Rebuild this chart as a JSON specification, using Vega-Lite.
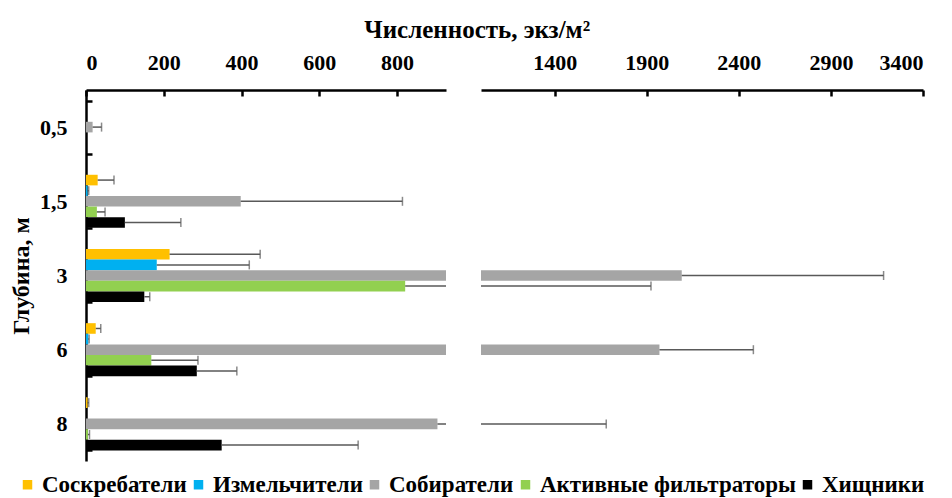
{
  "$schema": "https://vega.github.io/schema/vega-lite/v6.json",
  "padding": {"left": 9, "right": 0, "top": 18, "bottom": 0},
  "title": {"text": "Численность, экз/м²", "font": "Liberation Serif", "fontSize": 25, "fontWeight": "bold", "anchor": "middle", "color": "#000000", "offset": 8, "dx": 10},
  "config": {
    "view": {"stroke": null},
    "concat": {"spacing": 35},
    "axis": {
      "domainColor": "#000000", "domainWidth": 2.5, "tickColor": "#000000", "tickWidth": 2.5,
      "labelFont": "Liberation Serif", "labelFontSize": 22, "labelFontWeight": "bold", "labelColor": "#000000",
      "titleFont": "Liberation Serif", "titleFontSize": 24, "titleFontWeight": "bold", "titleColor": "#000000",
      "grid": false
    },
    "legend": {
      "labelFont": "Liberation Serif", "labelFontSize": 23, "labelFontWeight": "bold", "labelColor": "#000000",
      "symbolType": "square", "symbolSize": 90, "symbolStrokeWidth": 0, "columnPadding": 0, "labelOffset": 3, "labelLimit": 400
    }
  },
  "data": {"values": [
    {"depth": "0,5", "group": "Соскребатели", "value": 0, "hi": null},
    {"depth": "0,5", "group": "Измельчители", "value": 0, "hi": null},
    {"depth": "0,5", "group": "Собиратели", "value": 17, "hi": 40},
    {"depth": "0,5", "group": "Активные фильтраторы", "value": 0, "hi": null},
    {"depth": "0,5", "group": "Хищники", "value": 0, "hi": null},
    {"depth": "1,5", "group": "Соскребатели", "value": 30, "hi": 72},
    {"depth": "1,5", "group": "Измельчители", "value": 4, "hi": 7},
    {"depth": "1,5", "group": "Собиратели", "value": 398, "hi": 814},
    {"depth": "1,5", "group": "Активные фильтраторы", "value": 28, "hi": 49},
    {"depth": "1,5", "group": "Хищники", "value": 100, "hi": 244},
    {"depth": "3", "group": "Соскребатели", "value": 215, "hi": 448},
    {"depth": "3", "group": "Измельчители", "value": 182, "hi": 420},
    {"depth": "3", "group": "Собиратели", "value": 2090, "hi": 3186},
    {"depth": "3", "group": "Активные фильтраторы", "value": 821, "hi": 1923},
    {"depth": "3", "group": "Хищники", "value": 150, "hi": 164},
    {"depth": "6", "group": "Соскребатели", "value": 25, "hi": 38},
    {"depth": "6", "group": "Измельчители", "value": 6, "hi": 8},
    {"depth": "6", "group": "Собиратели", "value": 1969, "hi": 2479},
    {"depth": "6", "group": "Активные фильтраторы", "value": 168, "hi": 288},
    {"depth": "6", "group": "Хищники", "value": 285, "hi": 388},
    {"depth": "8", "group": "Соскребатели", "value": 4, "hi": 7},
    {"depth": "8", "group": "Измельчители", "value": 0, "hi": null},
    {"depth": "8", "group": "Собиратели", "value": 904, "hi": 1680},
    {"depth": "8", "group": "Активные фильтраторы", "value": 5, "hi": 9},
    {"depth": "8", "group": "Хищники", "value": 349, "hi": 700}
  ]},
  "hconcat": [
    {
      "width": 360, "height": 371,
      "encoding": {
        "y": {"field": "depth", "type": "nominal", "sort": ["0,5", "1,5", "3", "6", "8"],
          "scale": {"paddingInner": 0.285, "paddingOuter": 0.1425},
          "axis": {"title": "Глубина, м", "tickBand": "extent", "tickSize": -6, "labelPadding": 25, "titlePadding": 6, "labelAngle": 0}},
        "yOffset": {"field": "group", "type": "nominal", "sort": ["Соскребатели", "Измельчители", "Собиратели", "Активные фильтраторы", "Хищники"],
          "scale": {"domain": ["Соскребатели", "Измельчители", "Собиратели", "Активные фильтраторы", "Хищники"]}}
      },
      "layer": [
        {"mark": {"type": "bar", "clip": true},
         "encoding": {
           "x": {"field": "value", "type": "quantitative", "scale": {"domain": [0, 926], "nice": false},
             "axis": {"orient": "top", "title": null, "values": [0, 200, 400, 600, 800], "format": "d", "tickSize": -6, "labelPadding": 22}},
           "color": {"field": "group", "type": "nominal",
             "scale": {"domain": ["Соскребатели", "Измельчители", "Собиратели", "Активные фильтраторы", "Хищники"],
                       "range": ["#FFC000", "#00B0F0", "#A5A5A5", "#92D050", "#000000"]},
             "legend": {"orient": "none", "direction": "horizontal", "title": null, "legendX": -70, "legendY": 383}}
         }},
        {"transform": [{"filter": "datum.hi != null"}],
         "mark": {"type": "rule", "clip": true, "color": "#595959", "strokeWidth": 1.5},
         "encoding": {"x": {"field": "value", "type": "quantitative"}, "x2": {"field": "hi"}}},
        {"transform": [{"filter": "datum.hi != null"}],
         "mark": {"type": "tick", "clip": true, "color": "#595959", "thickness": 1.5, "size": 9},
         "encoding": {"x": {"field": "hi", "type": "quantitative"}}}
      ]
    },
    {
      "width": 442, "height": 371,
      "encoding": {
        "y": {"field": "depth", "type": "nominal", "sort": ["0,5", "1,5", "3", "6", "8"],
          "scale": {"paddingInner": 0.285, "paddingOuter": 0.1425}, "axis": null},
        "yOffset": {"field": "group", "type": "nominal", "sort": ["Соскребатели", "Измельчители", "Собиратели", "Активные фильтраторы", "Хищники"],
          "scale": {"domain": ["Соскребатели", "Измельчители", "Собиратели", "Активные фильтраторы", "Хищники"]}}
      },
      "layer": [
        {"mark": {"type": "bar", "clip": true},
         "encoding": {
           "x": {"field": "value", "type": "quantitative", "scale": {"domain": [1000, 3400], "nice": false, "zero": false},
             "axis": {"orient": "top", "title": null, "values": [1400, 1900, 2400, 2900, 3400], "format": "d", "tickSize": -6, "labelPadding": 22}},
           "color": {"field": "group", "type": "nominal",
             "scale": {"domain": ["Соскребатели", "Измельчители", "Собиратели", "Активные фильтраторы", "Хищники"],
                       "range": ["#FFC000", "#00B0F0", "#A5A5A5", "#92D050", "#000000"]},
             "legend": {"orient": "none", "direction": "horizontal", "title": null, "legendX": -70, "legendY": 383}}
         }},
        {"transform": [{"filter": "datum.hi != null"}],
         "mark": {"type": "rule", "clip": true, "color": "#595959", "strokeWidth": 1.5},
         "encoding": {"x": {"field": "value", "type": "quantitative"}, "x2": {"field": "hi"}}},
        {"transform": [{"filter": "datum.hi != null"}],
         "mark": {"type": "tick", "clip": true, "color": "#595959", "thickness": 1.5, "size": 9},
         "encoding": {"x": {"field": "hi", "type": "quantitative"}}}
      ]
    }
  ]
}
